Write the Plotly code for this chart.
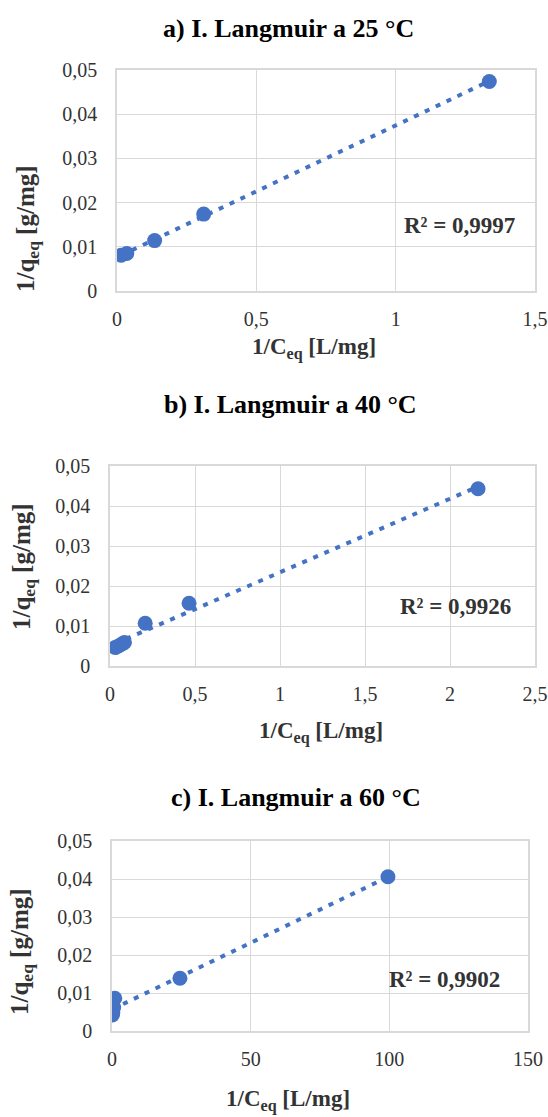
import numpy as np
import plotly.graph_objects as go

# ---------------- data ----------------
titles = ["a) I. Langmuir a 25 °C", "b) I. Langmuir a 40 °C", "c) I. Langmuir a 60 °C"]
r2_labels = ["R² = 0,9997", "R² = 0,9926", "R² = 0,9902"]

x_a = [0.015, 0.035, 0.135, 0.311, 1.336]
y_a = [0.0081, 0.0085, 0.0114, 0.0174, 0.0474]

x_b = [0.03, 0.05, 0.07, 0.085, 0.207, 0.465, 2.165]
y_b = [0.0046, 0.0050, 0.0055, 0.0059, 0.0107, 0.0157, 0.0443]

x_c = [0.1, 0.3, 0.6, 1.0, 24.5, 99.5]
y_c = [0.0042, 0.0048, 0.0062, 0.0086, 0.0139, 0.0406]

y_tickvals = [0, 0.01, 0.02, 0.03, 0.04, 0.05]
y_ticktext = ["0", "0,01", "0,02", "0,03", "0,04", "0,05"]
xa_tickvals = [0, 0.5, 1, 1.5]
xa_ticktext = ["0", "0,5", "1", "1,5"]
xb_tickvals = [0, 0.5, 1, 1.5, 2, 2.5]
xb_ticktext = ["0", "0,5", "1", "1,5", "2", "2,5"]
xc_tickvals = [0, 50, 100, 150]
xc_ticktext = ["0", "50", "100", "150"]

x_title = "<b>1/C<sub>eq</sub> [L/mg]</b>"
y_title = "<b>1/q<sub>eq</sub> [g/mg]</b>"

# ---------------- layout geometry (pixels) ----------------
W, H = 548, 1117
BLUE = "#4472C4"
GRID = "#d9d9d9"
TXT = "#333333"
FONT = "Liberation Serif, Times New Roman, DejaVu Serif, serif"

panels = [
    dict(x=x_a, y=y_a, tv=xa_tickvals, tt=xa_ticktext, xr=[0, 1.5],
         px=(117, 535), py=(70, 291), title_xy=(288, 28), r2_xy=(1.23, 0.0148),
         xt_xy=(314, 348), yt_xy=(28, 229)),
    dict(x=x_b, y=y_b, tv=xb_tickvals, tt=xb_ticktext, xr=[0, 2.5],
         px=(110, 535), py=(466, 666), title_xy=(290, 404), r2_xy=(2.03, 0.0148),
         xt_xy=(321, 732), yt_xy=(23, 567)),
    dict(x=x_c, y=y_c, tv=xc_tickvals, tt=xc_ticktext, xr=[0, 150],
         px=(112, 528), py=(841, 1031), title_xy=(296, 797), r2_xy=(120, 0.0135),
         xt_xy=(288, 1100), yt_xy=(22, 952)),
]

fig = go.Figure()
annotations = []
layout_axes = {}

for i, p in enumerate(panels):
    n = "" if i == 0 else str(i + 1)
    xa, ya = "x" + n, "y" + n
    # data points
    fig.add_trace(go.Scatter(
        x=p["x"], y=p["y"], mode="markers", xaxis=xa, yaxis=ya,
        marker=dict(size=15, color=BLUE), showlegend=False, hoverinfo="skip"))
    # linear trendline (least squares fit of the data)
    k, b = np.polyfit(p["x"], p["y"], 1)
    xs = np.array([min(p["x"]), max(p["x"])])
    fig.add_trace(go.Scatter(
        x=xs, y=k * xs + b, mode="lines", xaxis=xa, yaxis=ya,
        line=dict(color=BLUE, width=4, dash="5px,7px"), showlegend=False, hoverinfo="skip"))

    x0, x1 = p["px"]
    y0, y1 = p["py"]
    layout_axes["xaxis" + n] = dict(
        domain=[x0 / W, x1 / W], range=p["xr"], anchor=ya, automargin=False,
        tickvals=p["tv"], ticktext=p["tt"], showgrid=True, gridcolor=GRID, gridwidth=1,
        zeroline=False, showline=True, linecolor=GRID, linewidth=1.5, mirror=True,
        ticks="", ticklabelstandoff=9,
        tickfont=dict(family=FONT, size=20, color=TXT))
    layout_axes["yaxis" + n] = dict(
        domain=[1 - y1 / H, 1 - y0 / H], range=[0, 0.05], anchor=xa, automargin=False,
        tickvals=y_tickvals, ticktext=y_ticktext, showgrid=True, gridcolor=GRID, gridwidth=1,
        zeroline=False, showline=True, linecolor=GRID, linewidth=1.5, mirror=True,
        ticks="", ticklabelstandoff=14,
        tickfont=dict(family=FONT, size=20, color=TXT))

    common = dict(showarrow=False, xanchor="center", yanchor="middle")
    tx, ty = p["title_xy"]
    annotations.append(dict(text="<b>" + titles[i] + "</b>", xref="paper", yref="paper",
                            x=tx / W, y=1 - ty / H,
                            font=dict(family=FONT, size=26, color="#000000"), **common))
    annotations.append(dict(text="<b>" + r2_labels[i] + "</b>", xref=xa, yref=ya,
                            x=p["r2_xy"][0], y=p["r2_xy"][1],
                            font=dict(family=FONT, size=23, color=TXT), **common))
    xtx, xty = p["xt_xy"]
    annotations.append(dict(text=x_title, xref="paper", yref="paper",
                            x=xtx / W, y=1 - xty / H,
                            font=dict(family=FONT, size=23, color=TXT), **common))
    ytx, yty = p["yt_xy"]
    annotations.append(dict(text=y_title, xref="paper", yref="paper", textangle=-90,
                            x=ytx / W, y=1 - yty / H,
                            font=dict(family=FONT, size=25, color=TXT), **common))

fig.update_layout(
    width=W, height=H, margin=dict(l=0, r=0, t=0, b=0, pad=0),
    paper_bgcolor="white", plot_bgcolor="white",
    annotations=annotations, **layout_axes)

fig.write_html("out.html", config={"displayModeBar": False},
               post_script="document.body.style.margin='0';")
